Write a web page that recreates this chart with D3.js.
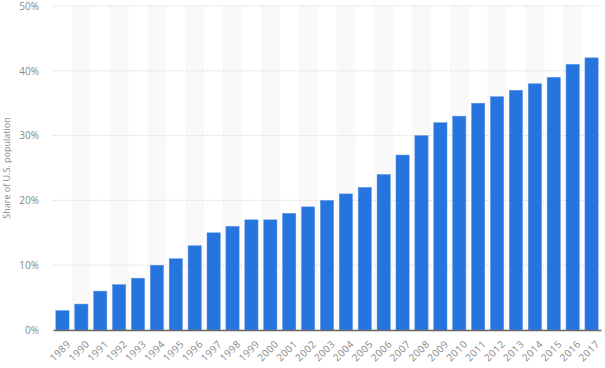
<!DOCTYPE html>
<html>
<head>
<meta charset="utf-8">
<script src="https://cdn.jsdelivr.net/npm/d3@7"></script>
<style>
  body { margin: 0; background: #fff; }
  text { font-family: "Open Sans", sans-serif; }
</style>
</head>
<body>
<div id="chart"></div>
<script>
const years = ['1989','1990','1991','1992','1993','1994','1995','1996','1997','1998','1999','2000','2001','2002','2003','2004','2005','2006','2007','2008','2009','2010','2011','2012','2013','2014','2015','2016','2017'];
const shares = [3,4,6,7,8,10,11,13,15,16,17,17,18,19,20,21,22,24,27,30,32,33,35,36,37,38,39,41,42];
const yTicks = [0,10,20,30,40,50];

const width = 605, height = 368;
const margin = { top: 6, right: 4, bottom: 38, left: 53 };

const svg = d3.select('#chart')
  .append('svg')
  .attr('width', width)
  .attr('height', height);

const g = svg.append('g')
  .attr('transform', `translate(${margin.left},${margin.top})`);

const w = width - margin.left - margin.right;
const h = height - margin.top - margin.bottom;

const x = d3.scaleBand().domain(years).range([0, w]).paddingInner(0.3).paddingOuter(0.15);
const y = d3.scaleLinear().domain([0, 50]).range([h, 0]);

// alternating band shading
g.selectAll('.stripe')
  .data(years.filter((d, i) => i % 2 === 1))
  .enter().append('rect')
  .attr('x', d => x(d) + x.bandwidth() / 2 - x.step() / 2)
  .attr('width', x.step())
  .attr('y', 0)
  .attr('height', h)
  .attr('fill', '#f9f9f9');

// grid
g.selectAll('.grid')
  .data(yTicks.filter(d => d > 0))
  .enter().append('line')
  .attr('x1', 0).attr('x2', w)
  .attr('y1', d => y(d)).attr('y2', d => y(d))
  .attr('stroke', '#d8d8d8')
  .attr('stroke-dasharray', '1,1');

// y axis labels
const yAxis = d3.axisLeft(y).tickValues(yTicks).tickFormat(d => d + '%').tickSize(0).tickPadding(14);
g.append('g').call(yAxis)
  .call(s => s.select('.domain').remove())
  .selectAll('text')
  .attr('fill', '#888')
  .style('font-size', '10px');

// bars
g.selectAll('.bar')
  .data(shares)
  .enter().append('rect')
  .attr('x', (d, i) => x(years[i]))
  .attr('width', x.bandwidth())
  .attr('y', d => y(d))
  .attr('height', d => h - y(d))
  .attr('fill', '#2674dd')
  .attr('stroke', '#5b95e6')
  .attr('stroke-width', 0.5);

// x axis
const xAxis = d3.axisBottom(x).tickSize(0).tickPadding(8);
const xg = g.append('g').attr('transform', `translate(0,${h})`).call(xAxis);
xg.select('.domain').attr('stroke', '#666').attr('stroke-width', 1.5);
xg.selectAll('text')
  .attr('fill', '#888')
  .style('font-size', '10px')
  .style('letter-spacing', '0.4px')
  .attr('text-anchor', 'end')
  .attr('dy', '0.3em')
  .attr('transform', 'translate(1,7) rotate(-45)');

// y title
svg.append('text')
  .attr('transform', `translate(10,${margin.top + h / 2}) rotate(-90)`)
  .attr('text-anchor', 'middle')
  .attr('fill', '#888')
  .style('font-size', '9px')
  .text('Share of U.S. population');
</script>
</body>
</html>
